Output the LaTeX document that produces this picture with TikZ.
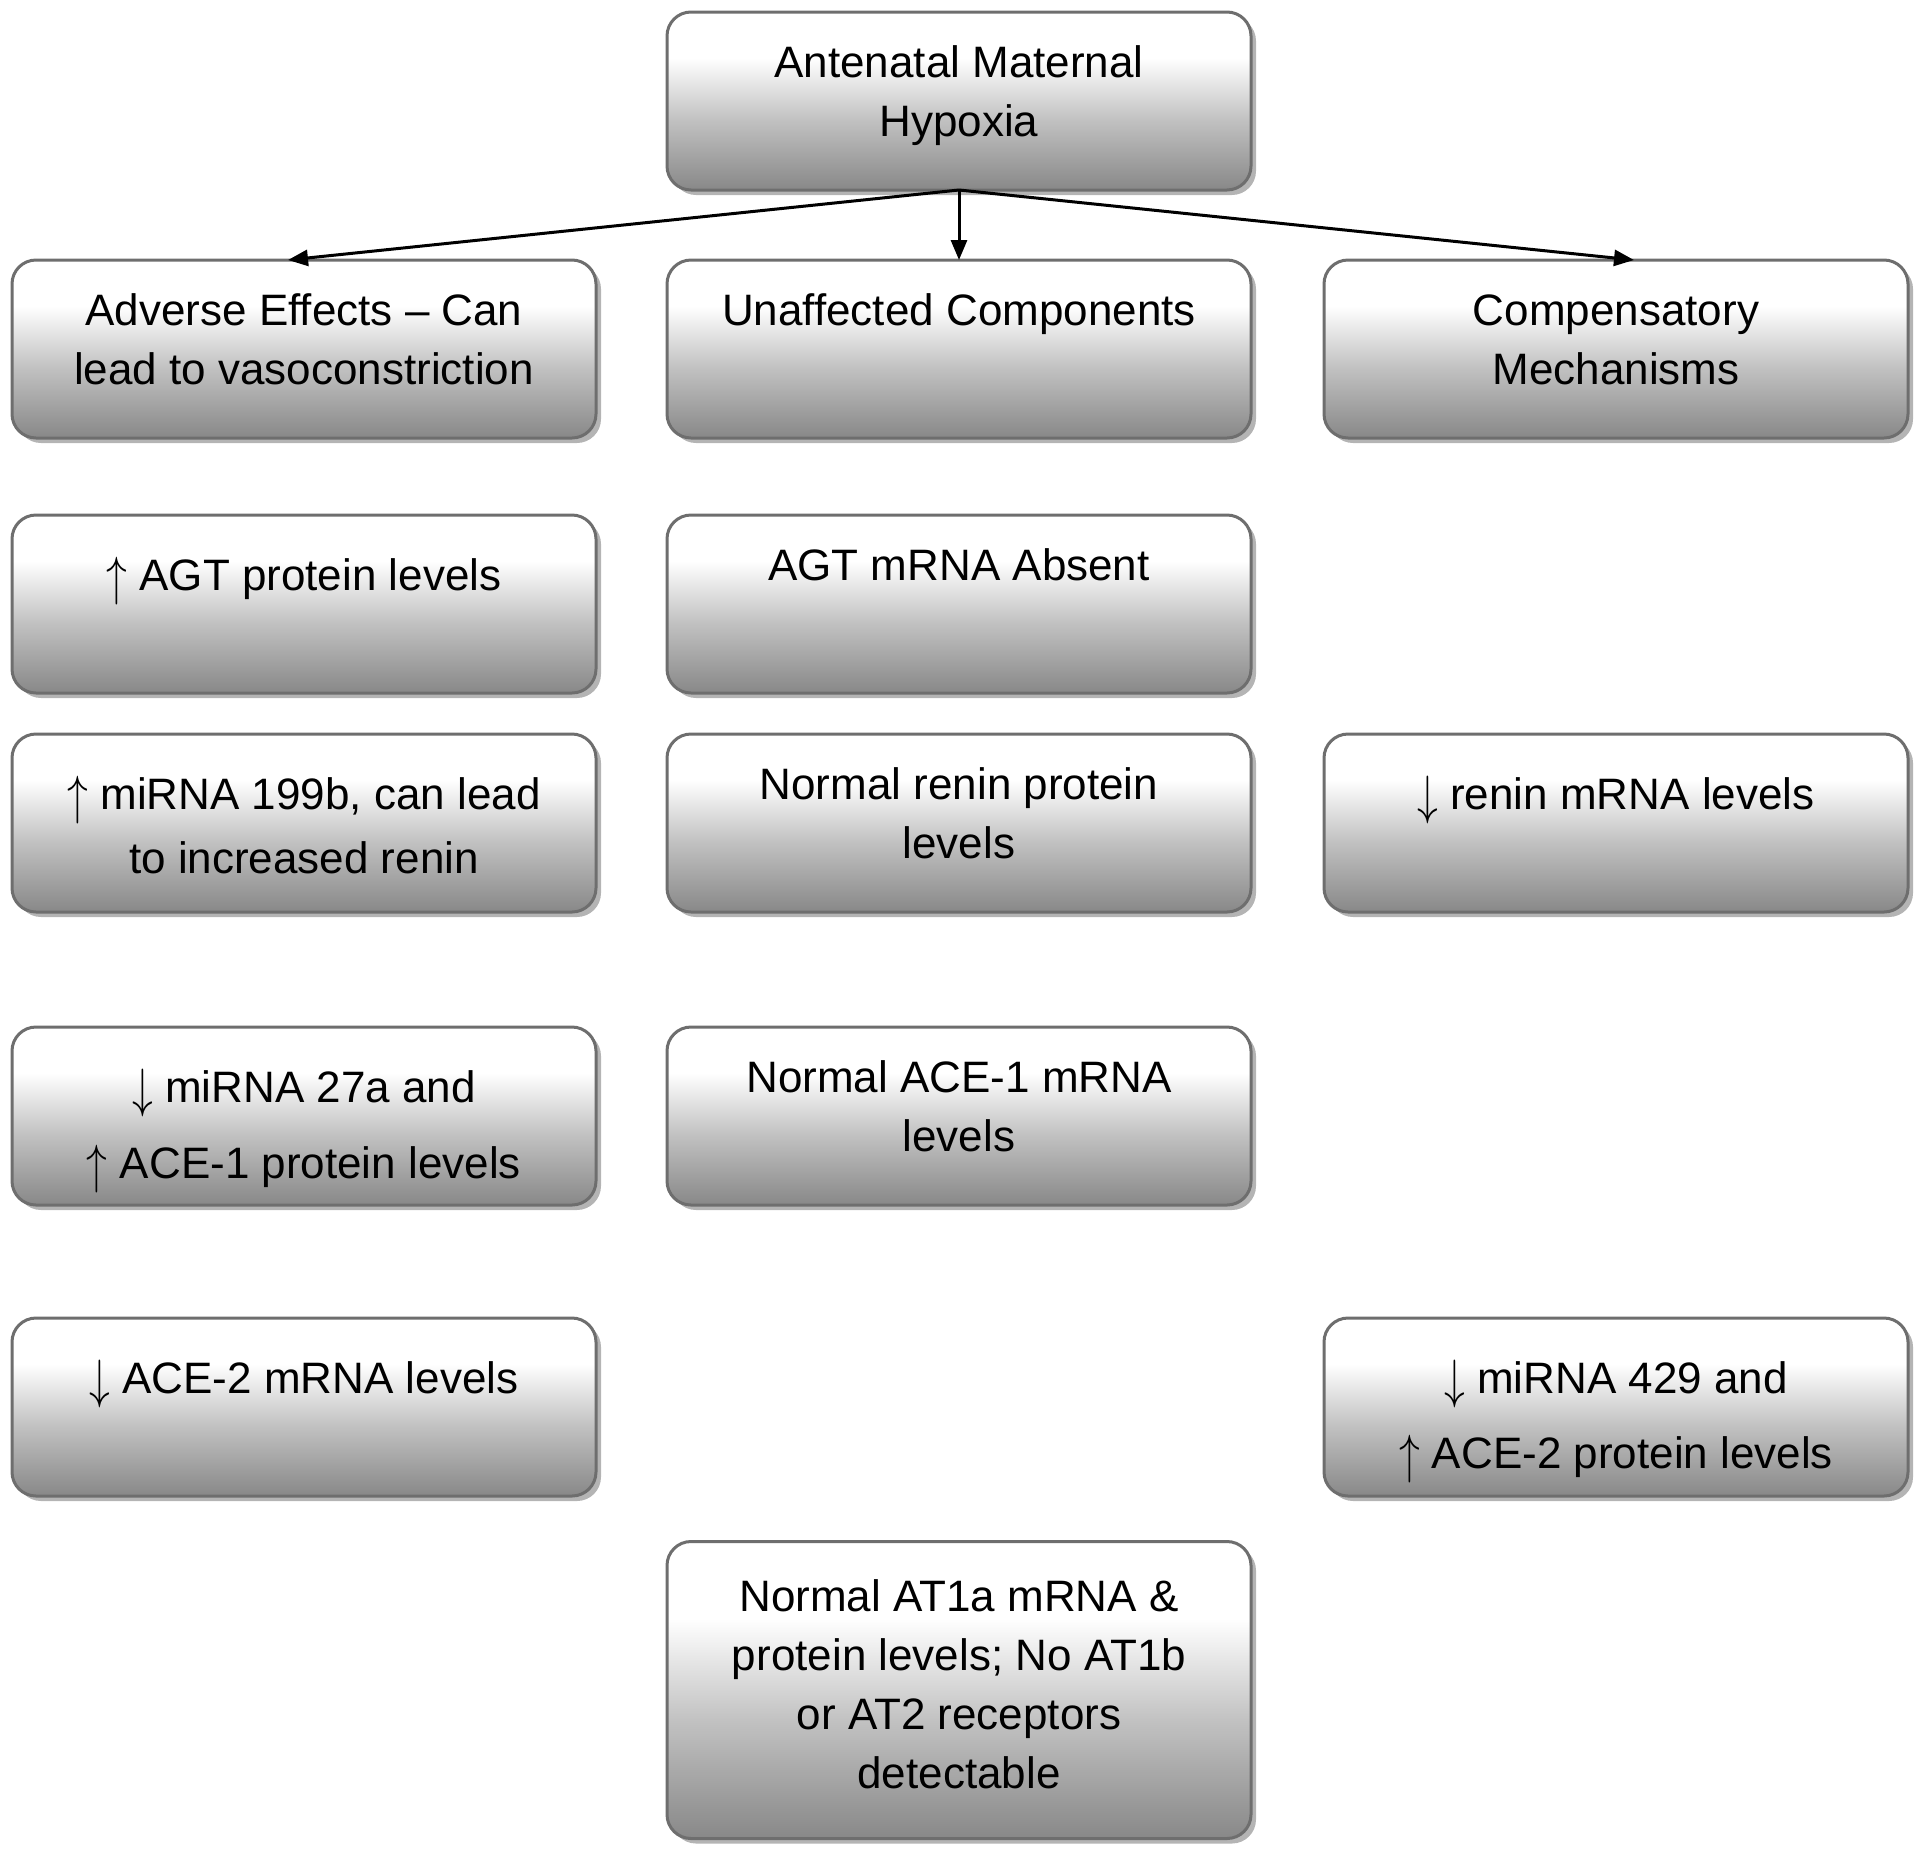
\documentclass[tikz,border=0pt]{standalone}
\usepackage{fontspec}
\usepackage{graphicx}
\setmainfont{Liberation Sans}
\usetikzlibrary{arrows.meta,shadows}
\definecolor{boxedge}{HTML}{6E6E6E}
\definecolor{shadowgray}{HTML}{B4B4B4}
\definecolor{gbottom}{HTML}{888888}
\definecolor{gmid}{HTML}{C2C2C2}
\pgfdeclareverticalshading{boxshade}{100bp}{color(0bp)=(gbottom); color(25bp)=(gbottom); color(45bp)=(gmid); color(62bp)=(white); color(75bp)=(white); color(100bp)=(white)}
% #1 first baseline (pt), #2 line skip (pt), #3 box height (pt), #4 text
\newcommand\boxtxt[4]{\parbox[c][#3][t]{292pt}{\centering\fontsize{22pt}{#2}\selectfont\rule{0pt}{#1}#4\par}}
\newcommand\upar{\raisebox{-0.1em}{\scalebox{1}[1.3]{$\uparrow$}}}
\newcommand\dnar{\raisebox{-0.1em}{\scalebox{1}[1.3]{$\downarrow$}}}
\tikzset{
  flowbox/.style={draw=boxedge, line width=1.5pt, rounded corners=12pt, shading=boxshade,
    inner sep=0pt, outer sep=0pt,
    drop shadow={shadow xshift=2.5pt, shadow yshift=-2.5pt, fill=shadowgray, opacity=1}},
  conn/.style={line width=1.5pt, -{Triangle[length=10pt,width=8pt]}}
}
\begin{document}
\begin{tikzpicture}[x=0.5pt,y=-0.5pt]
\useasboundingbox (0,0) rectangle (1920,1853);
% top
\node[flowbox] (top) at (959,101) {\boxtxt{32.5pt}{29.5pt}{89pt}{Antenatal Maternal\\Hypoxia}};
% row 1
\node[flowbox] (l1) at (304,349) {\boxtxt{32.5pt}{29.5pt}{89pt}{Adverse Effects -- Can\\lead to vasoconstriction}};
\node[flowbox] (m1) at (959,349) {\boxtxt{32.5pt}{29.5pt}{89pt}{Unaffected Components}};
\node[flowbox] (r1) at (1616,349) {\boxtxt{32.5pt}{29.5pt}{89pt}{Compensatory\\Mechanisms}};
% row 2
\node[flowbox] (l2) at (304,604) {\boxtxt{37.5pt}{29.5pt}{89pt}{\upar{} AGT protein levels}};
\node[flowbox] (m2) at (959,604) {\boxtxt{32.5pt}{29.5pt}{89pt}{AGT mRNA Absent}};
% row 3
\node[flowbox] (l3) at (304,823) {\boxtxt{37.5pt}{32pt}{89pt}{\upar{} miRNA 199b, can lead\\to increased renin}};
\node[flowbox] (m3) at (959,823) {\boxtxt{32.5pt}{29.5pt}{89pt}{Normal renin protein\\levels}};
\node[flowbox] (r3) at (1616,823) {\boxtxt{37.5pt}{29.5pt}{89pt}{\dnar{} renin mRNA levels}};
% row 4
\node[flowbox] (l4) at (304,1116) {\boxtxt{37.5pt}{38pt}{89pt}{\dnar{} miRNA 27a and\\\upar{} ACE-1 protein levels}};
\node[flowbox] (m4) at (959,1116) {\boxtxt{32.5pt}{29.5pt}{89pt}{Normal ACE-1 mRNA\\levels}};
% row 5
\node[flowbox] (l5) at (304,1407) {\boxtxt{37.5pt}{29.5pt}{89pt}{\dnar{} ACE-2 mRNA levels}};
\node[flowbox] (r5) at (1616,1407) {\boxtxt{37.5pt}{37.5pt}{89pt}{\dnar{} miRNA 429 and\\\upar{} ACE-2 protein levels}};
% row 6
\node[flowbox] (m6) at (959,1690) {\boxtxt{35pt}{29.5pt}{148.5pt}{Normal AT1a mRNA \&\\protein levels; No AT1b\\or AT2 receptors\\detectable}};
% connectors
\draw[conn] (top.south) -- ([xshift=-8pt]l1.north);
\draw[conn] (top.south) -- (m1.north);
\draw[conn] (top.south) -- ([xshift=9pt]r1.north);
\end{tikzpicture}
\end{document}
